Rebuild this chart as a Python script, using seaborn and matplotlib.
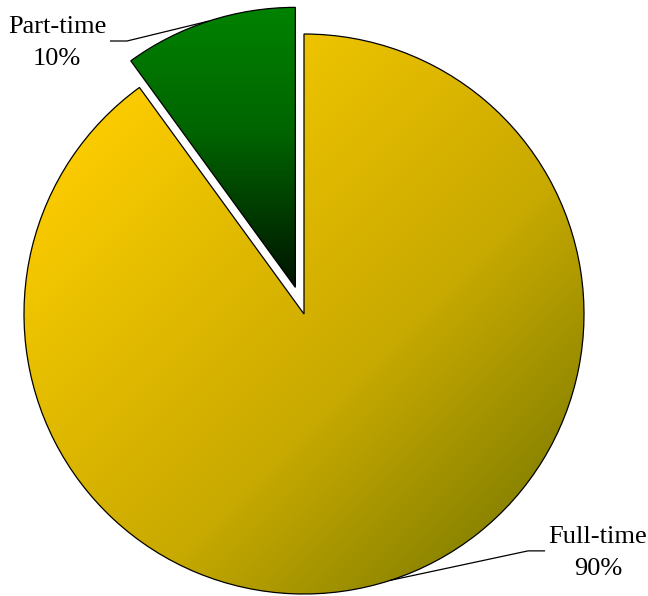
import numpy as np
import matplotlib
matplotlib.use("Agg")
import matplotlib.pyplot as plt
from matplotlib.colors import LinearSegmentedColormap
import seaborn as sns

sns.set_style("white")
plt.rcParams["font.family"] = ["Liberation Serif", "DejaVu Serif"]

# Employment status shares
categories = ["Part-time", "Full-time"]
shares = [10, 90]
labels = ["Part-time\n10%", "Full-time\n90%"]

W, H, DPI = 648, 596, 100
fig = plt.figure(figsize=(W / DPI, H / DPI), dpi=DPI)
ax = fig.add_axes([0, 0, 1, 1])

# Pie geometry: radius 1 in data units = 280 px, centre at (304, 314) px from top-left
R_PX, CX, CY = 280.0, 304.0, 314.0

explode = [0.1, 0.0]
wedges, _ = ax.pie(
    shares,
    explode=explode,
    startangle=90,
    counterclock=True,
    radius=1.0,
    wedgeprops=dict(edgecolor="black", linewidth=0.9, facecolor="none"),
    frame=False,
)
ax.set_xlim(-CX / R_PX, (W - CX) / R_PX)
ax.set_ylim(-(H - CY) / R_PX, CY / R_PX)
ax.set_aspect("auto")
ax.axis("off")

# Gradient fills clipped to each wedge
gold_stops = [
    (0.00, (255, 210, 0)),
    (0.16, (250, 202, 0)),
    (0.30, (232, 192, 0)),
    (0.50, (212, 176, 0)),
    (0.60, (200, 170, 0)),
    (0.84, (144, 135, 0)),
    (1.00, (110, 108, 0)),
]
gold = LinearSegmentedColormap.from_list(
    "gold", [(t, tuple(c / 255 for c in rgb)) for t, rgb in gold_stops])
green = LinearSegmentedColormap.from_list(
    "green", [(0.0, "#008200"), (0.45, "#006400"), (1.0, "#001400")])

n = 400
gx, gy = np.meshgrid(np.linspace(0, 1, n), np.linspace(0, 1, n))

# Full-time: diagonal gradient, top-left light to bottom-right dark
diag = (gx + gy) / 2.0
im_ft = ax.imshow(diag, cmap=gold, vmin=0, vmax=1, extent=(-1.0, 1.0, -1.0, 1.0),
                  origin="upper", interpolation="bilinear", zorder=1,
                  aspect="auto")
im_ft.set_clip_path(wedges[1])

# Part-time: vertical gradient, green at the rim to near-black at the tip
theta = np.deg2rad(90 + 18)
ox, oy = explode[0] * np.cos(theta), explode[0] * np.sin(theta)
im_pt = ax.imshow(gy, cmap=green, vmin=0, vmax=1,
                  extent=(ox - 0.6, ox + 0.05, oy + 0.0, oy + 1.0),
                  origin="upper", interpolation="bilinear", zorder=1,
                  aspect="auto")
im_pt.set_clip_path(wedges[0])

for wd in wedges:
    wd.set_zorder(2)

# Leader lines from each slice's outer midpoint to its label
def rim_point(mid_deg, off):
    a = np.deg2rad(mid_deg)
    return off * np.cos(a) + np.cos(a), off * np.sin(a) + np.sin(a)

px, py = rim_point(108, explode[0])
ax.plot([-0.693, -0.632, px], [0.975, 0.975, py], color="black", lw=0.9,
        zorder=3, solid_capstyle="butt")
ax.text(-0.882, 0.968, labels[0], ha="center", va="center", fontsize=19,
        linespacing=1.62, color="black")

fx, fy = rim_point(288, explode[1])
ax.plot([0.861, 0.80, fx], [-0.846, -0.846, fy], color="black", lw=0.9,
        zorder=3, solid_capstyle="butt")
ax.text(1.05, -0.853, labels[1], ha="center", va="center", fontsize=19,
        linespacing=1.62, color="black")

fig.savefig("out.png", dpi=DPI, facecolor="white")
